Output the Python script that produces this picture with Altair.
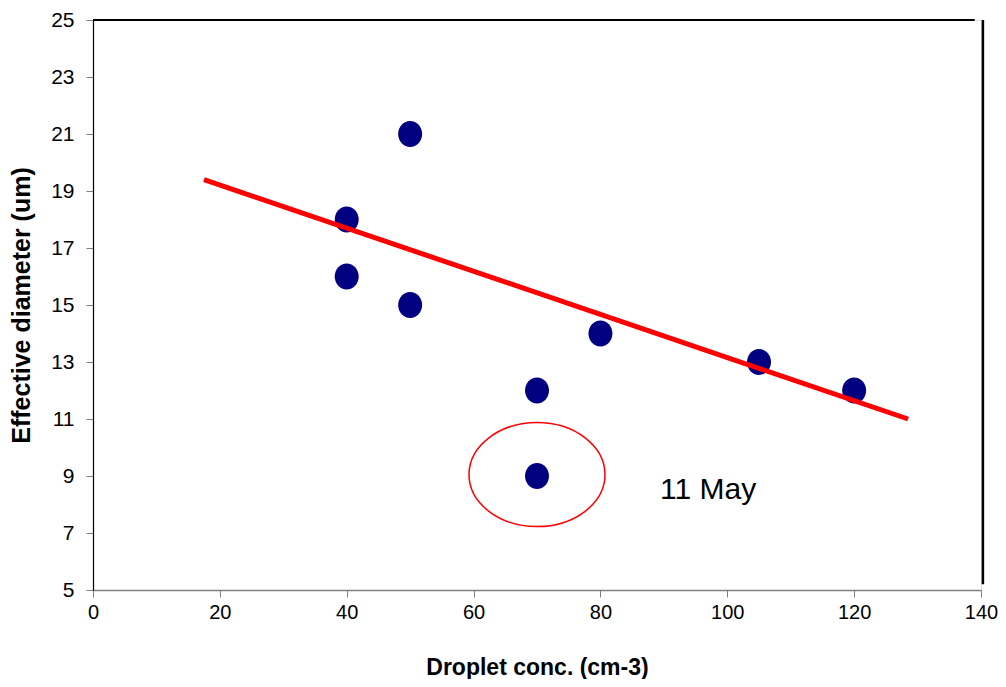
import altair as alt
import pandas as pd

# Data
conc = [40, 40, 50, 50, 70, 70, 80, 105, 120]
diam = [18, 16, 21, 15, 12, 9, 14, 13, 12]

fit_x = [17.5, 128.5]
fit_y = [19.4, 11.0]

circled_x = [70]
circled_y = [9.05]

note_x = [89.4]
note_y = [8.2]
note_text = ["11 May"]

x_ticks = [0, 20, 40, 60, 80, 100, 120, 140]
y_ticks = [5, 7, 9, 11, 13, 15, 17, 19, 21, 23, 25]

pts = pd.DataFrame({"x": conc, "y": diam})
fit = pd.DataFrame({"x": fit_x, "y": fit_y})
circ = pd.DataFrame({"x": circled_x, "y": circled_y})
note = pd.DataFrame({"x": note_x, "y": note_y, "t": note_text})

FONT = "Liberation Sans"

xscale = alt.Scale(domain=[0, 140], nice=False, zero=False)
yscale = alt.Scale(domain=[5, 25], nice=False, zero=False)

xaxis = alt.Axis(values=x_ticks, title="Droplet conc. (cm-3)", grid=False,
                 labelFontSize=20, labelFont=FONT, labelColor="black",
                 titleFontSize=23, titleFont=FONT, titleFontWeight="bold",
                 titleColor="black", titlePadding=34,
                 domainColor="#808080", tickColor="#808080", tickSize=7,
                 labelPadding=5, domainWidth=1.5, labelFlush=False)
yaxis = alt.Axis(values=y_ticks, title="Effective diameter (um)", grid=False,
                 labelFontSize=21, labelFont=FONT, labelColor="black",
                 titleFontSize=25, titleFont=FONT, titleFontWeight="bold",
                 titleColor="black", titlePadding=16,
                 domainColor="black", tickColor="#808080", tickSize=7,
                 labelPadding=12, domainWidth=1.2, labelFlush=False)

base_points = alt.Chart(pts).mark_point(
    shape="M -1 0 A 1 1.083 0 1 0 1 0 A 1 1.083 0 1 0 -1 0 Z",
    filled=True, color="#000080", opacity=1, size=576
).encode(
    x=alt.X("x:Q", scale=xscale, axis=xaxis),
    y=alt.Y("y:Q", scale=yscale, axis=yaxis),
)

line = alt.Chart(fit).mark_line(color="#ff0000", strokeWidth=5).encode(
    x=alt.X("x:Q", scale=xscale),
    y=alt.Y("y:Q", scale=yscale),
)

ellipse = alt.Chart(circ).mark_point(
    shape="M -1 0 A 1 0.765 0 1 0 1 0 A 1 0.765 0 1 0 -1 0 Z",
    filled=False, color="#ff0000", strokeWidth=1.5, opacity=1, size=136 * 136
).encode(
    x=alt.X("x:Q", scale=xscale),
    y=alt.Y("y:Q", scale=yscale),
)

text = alt.Chart(note).mark_text(
    align="left", baseline="alphabetic", fontSize=30, font=FONT, color="black"
).encode(
    x=alt.X("x:Q", scale=xscale),
    y=alt.Y("y:Q", scale=yscale),
    text="t:N",
)

# Frame lines (top and right)
top_df = pd.DataFrame({"x": [0], "x2": [139.0], "y": [25]})
top_rule = alt.Chart(top_df).mark_rule(color="black", strokeWidth=2).encode(
    x=alt.X("x:Q", scale=xscale), x2="x2:Q", y=alt.Y("y:Q", scale=yscale)
)
right_df = pd.DataFrame({"x": [140.3], "y": [25], "y2": [5.2]})
right_rule = alt.Chart(right_df).mark_rule(color="black", strokeWidth=2.5).encode(
    x=alt.X("x:Q", scale=xscale), y=alt.Y("y:Q", scale=yscale), y2="y2:Q"
)

chart = alt.layer(base_points, line, ellipse, text, top_rule, right_rule).properties(
    width=888, height=570,
    autosize=alt.AutoSizeParams(type="none"),
    padding={"left": 85, "top": 12, "right": 17, "bottom": 89},
).configure_view(stroke=None).configure(background="white")

chart.save("out.html", embed_options={"renderer": "svg", "actions": False})
